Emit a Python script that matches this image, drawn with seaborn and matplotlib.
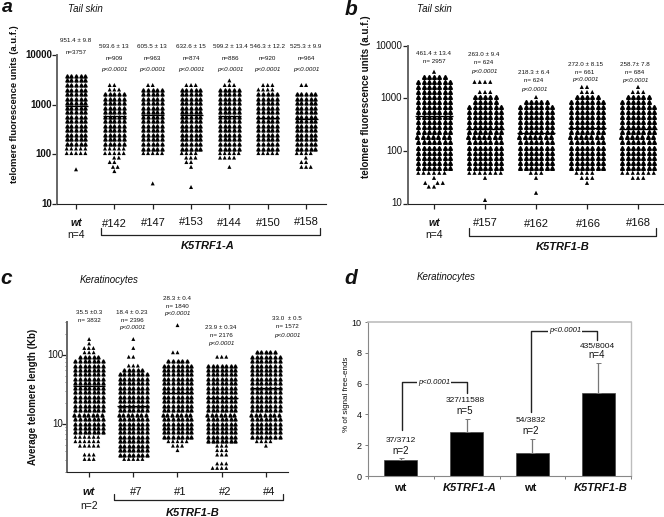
import numpy as np
import pandas as pd
import matplotlib
matplotlib.use("Agg")
import matplotlib.pyplot as plt
from matplotlib.lines import Line2D
from matplotlib.ticker import NullLocator
import seaborn as sns

W, H = 664, 517
sns.set_style("ticks")
plt.rcParams['font.family'] = ['Liberation Sans', 'DejaVu Sans']

# ---------- panel a ----------
groups_a = ["wt", "#142", "#147", "#153", "#144", "#150", "#158"]
levels_a = [3800, 3080, 2490, 2020, 1640, 1330, 1075, 870, 705, 571, 463,
            375, 304, 246, 199, 161, 131, 106, 86, 70, 56, 46]
counts_a = [
    [5, 5, 5, 5, 5, 5, 5, 5, 5, 5, 5, 5, 5, 5, 5, 5, 5, 5, 0, 0, 0, 0],
    [0, 0, 2, 3, 5, 5, 5, 5, 5, 5, 5, 5, 5, 5, 5, 5, 5, 5, 2, 2, 2, 1],
    [0, 0, 2, 5, 5, 5, 5, 5, 5, 5, 5, 5, 5, 5, 5, 5, 5, 5, 0, 0, 0, 0],
    [0, 0, 3, 5, 5, 5, 5, 5, 5, 5, 5, 5, 5, 5, 5, 5, 5, 4, 3, 2, 1, 0],
    [0, 1, 3, 5, 5, 5, 5, 5, 5, 5, 5, 5, 5, 5, 5, 5, 5, 5, 4, 0, 1, 0],
    [0, 0, 3, 4, 5, 5, 5, 5, 5, 5, 5, 5, 5, 5, 5, 5, 5, 5, 0, 0, 0, 0],
    [0, 0, 2, 0, 5, 5, 5, 5, 5, 5, 5, 5, 5, 5, 5, 5, 5, 4, 1, 2, 3, 0],
]
extras_a = [[50], [], [26], [22], [], [], []]
floors_a = [150, 150, 125, 125, 125, 125, 125]
means_a = [951.4, 593.6, 605.5, 632.6, 599.2, 546.3, 525.3]

# ---------- panel b ----------
groups_b = ["wt", "#157", "#162", "#166", "#168"]
levels_b = [3200, 2565, 2056, 1648, 1321, 1059, 849, 680, 545, 437, 350, 281,
            225, 180, 145, 116, 93, 74.6, 59.8, 47.9, 38.4, 30.8, 24.7]
counts_b = [
    [1, 5, 7, 7, 7, 7, 7, 7, 7, 7, 7, 7, 7, 7, 7, 7, 7, 7, 7, 7, 6, 1, 3],
    [0, 0, 4, 0, 3, 5, 5, 7, 7, 7, 7, 7, 7, 7, 7, 7, 7, 7, 7, 7, 7, 1, 0],
    [0, 0, 0, 0, 0, 1, 5, 7, 7, 7, 7, 7, 7, 7, 7, 7, 7, 7, 7, 7, 3, 1, 0],
    [0, 0, 0, 2, 3, 5, 7, 7, 7, 7, 7, 7, 7, 7, 7, 7, 7, 7, 7, 7, 4, 3, 1],
    [0, 0, 0, 1, 3, 5, 6, 7, 7, 7, 7, 7, 7, 7, 7, 7, 7, 7, 7, 7, 7, 3, 0],
]
extras_b = [[21, 21], [11.7], [16], [], []]
floors_b = [45, 45, 45, 45, 45]
means_b = [461.4, 263.0, 218.3, 272.0, 258.7]

# ---------- panel c ----------
groups_c = ["wt", "#7", "#1", "#2", "#4"]
levels_c = [170, 146.5, 126, 109, 94, 81, 70, 60.3, 52, 44.8, 38.6, 33.3, 28.7,
            24.7, 21.3, 18.4, 15.8, 13.6, 11.8, 10.1, 8.72, 7.52, 6.48, 5.59,
            4.82, 4.15, 3.58, 3.09, 2.66, 2.29]
counts_c = [
    [1, 1, 3, 3, 5, 7, 7, 7, 7, 7, 7, 7, 7, 7, 7, 7, 7, 7, 7, 7, 7, 7, 6, 6, 5, 0, 3, 3, 0, 0],
    [1, 0, 1, 0, 2, 0, 3, 5, 7, 7, 7, 7, 7, 7, 7, 7, 7, 7, 7, 7, 7, 7, 7, 7, 7, 7, 7, 5, 0, 0],
    [0, 0, 0, 2, 0, 5, 7, 7, 7, 7, 7, 7, 7, 7, 7, 7, 7, 7, 7, 7, 7, 7, 7, 5, 3, 1, 0, 0, 0, 0],
    [0, 0, 0, 0, 3, 0, 7, 7, 7, 7, 7, 7, 7, 7, 7, 7, 7, 7, 7, 7, 7, 7, 7, 7, 3, 3, 3, 0, 3, 4],
    [0, 0, 0, 5, 7, 7, 7, 7, 7, 7, 7, 7, 7, 7, 7, 7, 7, 7, 7, 7, 7, 7, 7, 4, 1, 0, 0, 0, 0, 0],
]
extras_c = [[], [], [270], [], []]
floors_c = [7, 3.4, 6, 5.4, 6]
means_c = [35.5, 18.4, 28.3, 23.9, 33.0]

# ---------- panel d ----------
bar_ids = ["wt1", "K5TRF1-A", "wt2", "K5TRF1-B"]
bar_values = [1.05, 2.83, 1.5, 5.37]
bar_errors = [0.1, 0.87, 0.92, 2.0]


def px_axes(left, top, right, bottom):
    return fig.add_axes([left / W, 1 - bottom / H, (right - left) / W, (bottom - top) / H])


def T(x, y, s, size=4.5, weight="normal", style="normal", rotation=0, ha="center", bg=None):
    t = fig.text(x / W, 1 - y / H, s, fontsize=size, fontweight=weight, fontstyle=style,
                 rotation=rotation, ha=ha, va="center", color="#111111")
    if bg:
        t.set_bbox(dict(facecolor=bg, edgecolor="none", pad=0.8))
    return t


def path(xs, ys, color="#222222", lw=0.9):
    fig.add_artist(Line2D([x / W for x in xs], [1 - y / H for y in ys],
                          transform=fig.transFigure, color=color, lw=lw))


def frame(groups, levels, counts, extras, floors):
    rows = []
    for g, c, e, f in zip(groups, counts, extras, floors):
        lev = np.asarray(levels, dtype=float)
        cnt = np.asarray(c)
        core = (cnt >= 5) & (lev >= f)
        vals = np.concatenate([np.repeat(lev[core], cnt[core]),
                               np.repeat(lev[~core], cnt[~core]),
                               np.asarray(e, dtype=float)])
        kind = ["core"] * int(cnt[core].sum()) + ["tail"] * (len(vals) - int(cnt[core].sum()))
        rows.append(pd.DataFrame({"group": g, "value": vals, "kind": kind}))
    return pd.concat(rows, ignore_index=True)


def swarm(box, groups, levels, counts, extras, floors, means, ylim, xlim, yticks, ylabels,
          pitch, core_lw, tail_size, half, tick_weight, tick_right, minor=False):
    ax = px_axes(*box)
    df = frame(groups, levels, counts, extras, floors)
    sns.swarmplot(data=df[df.kind == "core"], x="group", y="value", order=groups,
                  color="black", marker="^", size=pitch - core_lw, linewidth=core_lw,
                  edgecolor="black", log_scale=10, warn_thresh=1, ax=ax)
    sns.swarmplot(data=df[df.kind == "tail"], x="group", y="value", order=groups,
                  color="black", marker="^", size=tail_size, linewidth=pitch - tail_size,
                  edgecolor="none", warn_thresh=1, ax=ax)
    ax.hlines(means, np.arange(len(means)) - half, np.arange(len(means)) + half,
              color="black", lw=0.9, zorder=5)
    ax.set_xlim(*xlim)
    ax.set_ylim(*ylim)
    ax.set_xlabel("")
    ax.set_ylabel("")
    ax.set_xticks(range(len(groups)))
    ax.set_xticklabels([])
    ax.set_yticks(yticks)
    ax.set_yticklabels([])
    if not minor:
        ax.yaxis.set_minor_locator(NullLocator())
    ax.patch.set_alpha(0)
    sns.despine(ax=ax)
    ax.spines["left"].set_color("#666666")
    ax.spines["left"].set_linewidth(1.4)
    ax.spines["bottom"].set_color("#222222")
    ax.spines["bottom"].set_linewidth(0.8)
    ax.tick_params(axis="both", which="major", length=3.5, width=0.9, color="#222222")
    ax.tick_params(axis="y", which="minor", length=1.8, width=0.5, color="#444444")
    y_frac = lambda v: box[3] - (np.log10(v) - np.log10(ylim[0])) / (np.log10(ylim[1]) - np.log10(ylim[0])) * (box[3] - box[1])
    for v, lab in zip(yticks, ylabels):
        T(tick_right, y_frac(v), lab, size=7, weight=tick_weight, ha="right")
    return ax


fig = plt.figure(figsize=(W / 100, H / 100), dpi=100)

# ---- a ----
swarm((57, 55, 326, 204), groups_a, levels_a, counts_a, extras_a, floors_a, means_a, (10, 10000),
      (-0.496, 6.52), [10, 100, 1000, 10000], ["10", "100", "1000", "10000"],
      3.2, 1.25, 2.9, 0.3, "bold", 52)
T(7, 7, "a", size=14, weight="bold", style="italic")
T(85, 9, "Tail skin", size=7, style="italic")
T(15, 104, "telomere fluorescence units (a.u.f.)", size=6.8, weight="bold", rotation=90)
T(76, 40, "951.4 ± 9.8")
T(76, 52.5, "n=3757")
labels_a = ["593.6 ± 13", "605.5 ± 13", "632.6 ± 15", "599.2 ± 13.4", "546.3 ± 12.2", "525.3 ± 9.9"]
ns_a = ["n=909", "n=963", "n=874", "n=886", "n=920", "n=964"]
for x, a, b in zip([114, 152, 191, 230, 267, 306], labels_a, ns_a):
    T(x, 46.5, a)
    T(x, 58.5, b)
    T(x, 70, "p<0.0001", style="italic")
T(76, 223, "wt", size=7.5, weight="bold", style="italic")
T(76, 234.5, "n=4", size=7.5)
for x, y, s in zip([114, 153, 191, 229, 268, 306], [224, 223, 222, 223, 223, 222], groups_a[1:]):
    T(x, y, s, size=8)
path([101, 101, 320, 320], [228, 235, 235, 228])
T(208, 246, "K5TRF1-A", size=8, weight="bold", style="italic")

# ---- b ----
swarm((408, 45.7, 663, 203.5), groups_b, levels_b, counts_b, extras_b, floors_b, means_b, (10, 10000),
      (-0.51, 4.49), [10, 100, 1000, 10000], ["10", "100", "1000", "10000"],
      3.6, 1.4, 3.0, 0.37, "normal", 402)
T(351, 9, "b", size=15, weight="bold", style="italic")
T(434, 9, "Tail skin", size=7, style="italic")
T(366, 97, "telomere fluorescence units (a.u.f.)", size=7, weight="bold", rotation=90)
T(434, 53.5, "461.4 ± 13.4")
T(434, 61.5, "n= 2957")
rows_b = [(484, 55, "263.0 ± 9.4", "n= 624"), (534, 73, "218.3 ± 6.4", "n= 624"),
          (585, 64, "272.0 ± 8.15", "n= 661"), (635, 64.5, "258.7± 7.8", "n= 684")]
for x, y, a, b in rows_b:
    T(x, y, a)
    T(x, y + 8, b)
    T(x, y + 16, "p<0.0001", style="italic")
T(434, 223, "wt", size=7.5, weight="bold", style="italic")
T(434, 235, "n=4", size=7.5)
for x, y, s in zip([485, 536, 588, 638], [223.5, 224, 224, 223], groups_b[1:]):
    T(x, y, s, size=8)
path([469, 469, 656, 656], [228, 236, 236, 228])
T(563, 247, "K5TRF1-B", size=8, weight="bold", style="italic")

# ---- c ----
swarm((67, 322, 288, 472), groups_c, levels_c, counts_c, extras_c, floors_c, means_c, (2, 300),
      (-0.5, 4.5), [10, 100], ["10", "100"], 3.13, 1.25, 2.8, 0.36, "normal", 63, minor=True)
T(6, 278, "c", size=15, weight="bold", style="italic")
T(109, 280, "Keratinocytes", size=7, style="italic")
T(33, 397, "Average telomere length (Kb)", size=7, weight="bold", rotation=90)
T(89, 313, "35.5 ±0.3")
T(89, 321, "n= 3832")
rows_c = [(132, 312, "18.4 ± 0.23", "n= 2396"), (177, 298, "28.3 ± 0.4", "n= 1840"),
          (221, 327.5, "23.9 ± 0.34", "n= 2176"), (287, 319, "33.0  ± 0.5", "n= 1572")]
for x, y, a, b in rows_c:
    T(x, y, a)
    T(x, y + 8, b)
    T(x, y + 16, "p<0.0001", style="italic")
T(89, 492, "wt", size=8, weight="bold", style="italic")
T(89, 506, "n=2", size=7.5)
for x, s in zip([136, 180, 225, 269], groups_c[1:]):
    T(x, 492, s, size=8)
path([114, 114, 283, 283], [494, 500, 500, 494])
T(193, 513, "K5TRF1-B", size=8, weight="bold", style="italic")

# ---- d ----
axd = px_axes(368, 322, 631, 476)
sns.barplot(x=bar_ids, y=bar_values, order=bar_ids, color="black", saturation=1,
            width=0.5, errorbar=None, edgecolor="#444444", linewidth=0.5, ax=axd)
axd.errorbar(range(4), bar_values, yerr=[np.zeros(4), bar_errors], fmt="none",
             ecolor="#777777", elinewidth=0.9, capsize=1.8, capthick=0.7, zorder=1)
axd.set_xlim(-0.5, 3.5)
axd.set_ylim(0, 10)
axd.set_yticks(range(0, 11, 2))
axd.set_yticklabels([str(v) for v in range(0, 11, 2)], fontsize=6.5, color="#111111")
axd.set_xticks([-0.5, 0.5, 1.5, 2.5, 3.5])
axd.set_xticklabels([])
axd.tick_params(axis="both", length=2.5, width=0.6, color="#666666", pad=2)
for side, col, lw in [("top", "#bdbdbd", 1.2), ("right", "#bdbdbd", 1.0),
                      ("left", "#888888", 0.8), ("bottom", "#888888", 0.8)]:
    axd.spines[side].set_visible(True)
    axd.spines[side].set_color(col)
    axd.spines[side].set_linewidth(lw)
T(351, 278, "d", size=15, weight="bold", style="italic")
T(446, 277, "Keratinocytes", size=7, style="italic")
T(347, 394, "% of signal free-ends", size=5.8, rotation=90)
for x, s, st in [(400, "wt", "normal"), (470, "K5TRF1-A", "italic"),
                 (530, "wt", "normal"), (601, "K5TRF1-B", "italic")]:
    T(x, 488, s, size=8, weight="bold", style=st)
for x, y1, a, y2, b in [(401, 440, "37/3712", 451, "n=2"), (465, 401, "327/11588", 411, "n=5"),
                        (531, 421, "54/3832", 431, "n=2"), (597, 346, "435/8004", 355, "n=4")]:
    T(x, y1, a, size=6)
    T(x, y2, b, size=7)
path([402, 402, 467, 467], [430, 382, 382, 393], lw=1.0)
path([531, 531, 597, 597], [412, 331, 331, 340], lw=1.0)
T(434, 383, "p<0.0001", size=5.5, style="italic", bg="white")
T(565, 331, "p<0.0001", size=5.5, style="italic", bg="white")

fig.savefig("out.png", dpi=100)
